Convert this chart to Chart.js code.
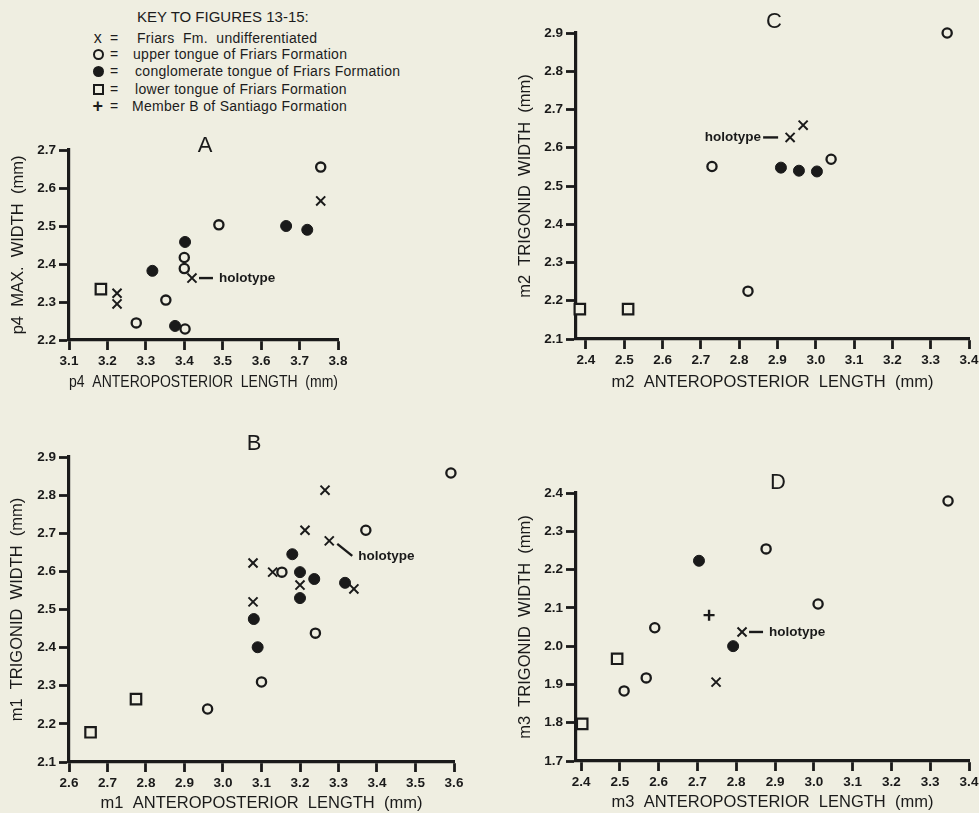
<!DOCTYPE html>
<html>
<head>
<meta charset="utf-8">
<title>Key to figures 13-15</title>
<script src="https://cdn.jsdelivr.net/npm/chart.js@4.4.1/dist/chart.umd.min.js"></script>
<style>
  html, body { margin: 0; padding: 0; width: 979px; height: 813px; overflow: hidden; background: #efeee1; }
  body { position: relative; font-family: "Liberation Sans", Arial, sans-serif; color: #1c1c1c; }
  canvas { position: absolute; }
  .key-title { position: absolute; left: 137px; top: 8px; font-size: 15px; white-space: pre; }
  .key-row { position: absolute; left: 0; height: 18px; width: 420px; }
  .key-row span { position: absolute; top: 0; line-height: 18px; white-space: pre; font-size: 14px; letter-spacing: 0.3px; }
  .sym { width: 18px; text-align: center; left: 89px; }
  .eq { left: 110px; }
  .ring { display: inline-block; box-sizing: border-box; width: 11px; height: 11px; border: 2px solid #1a1a1a; border-radius: 50%; margin-top: 4px; }
  .dot { display: inline-block; width: 11px; height: 11px; background: #1a1a1a; border-radius: 50%; margin-top: 4px; }
  .box { display: inline-block; box-sizing: border-box; width: 11px; height: 11px; border: 2px solid #1a1a1a; margin-top: 4px; }
</style>
</head>
<body>

<div class="key-title">KEY TO FIGURES 13-15:</div>
<div class="key-row" style="top:29px"><span class="sym" style="font-size:16px">x</span><span class="eq">=</span><span style="left:137px">Friars  Fm.  undifferentiated</span></div>
<div class="key-row" style="top:45px"><span class="sym"><i class="ring"></i></span><span class="eq">=</span><span style="left:133px">upper tongue of Friars Formation</span></div>
<div class="key-row" style="top:62px"><span class="sym"><i class="dot"></i></span><span class="eq">=</span><span style="left:135px">conglomerate tongue of Friars Formation</span></div>
<div class="key-row" style="top:80px"><span class="sym"><i class="box"></i></span><span class="eq">=</span><span style="left:135px">lower tongue of Friars Formation</span></div>
<div class="key-row" style="top:97px"><span class="sym" style="font-size:18px;font-weight:bold">+</span><span class="eq">=</span><span style="left:132px">Member B of Santiago Formation</span></div>

<canvas id="panelA"></canvas>
<canvas id="panelB"></canvas>
<canvas id="panelC"></canvas>
<canvas id="panelD"></canvas>

<script>
// Tick values for each panel
const aXTicks = [3.1, 3.2, 3.3, 3.4, 3.5, 3.6, 3.7, 3.8];
const aYTicks = [2.2, 2.3, 2.4, 2.5, 2.6, 2.7];
const bXTicks = [2.6, 2.7, 2.8, 2.9, 3.0, 3.1, 3.2, 3.3, 3.4, 3.5, 3.6];
const bYTicks = [2.1, 2.2, 2.3, 2.4, 2.5, 2.6, 2.7, 2.8, 2.9];
const cXTicks = [2.4, 2.5, 2.6, 2.7, 2.8, 2.9, 3.0, 3.1, 3.2, 3.3, 3.4];
const cYTicks = [2.1, 2.2, 2.3, 2.4, 2.5, 2.6, 2.7, 2.8, 2.9];
const dXTicks = [2.4, 2.5, 2.6, 2.7, 2.8, 2.9, 3.0, 3.1, 3.2, 3.3, 3.4];
const dYTicks = [1.7, 1.8, 1.9, 2.0, 2.1, 2.2, 2.3, 2.4];

// Panel A: p4 length vs max. width  [length, width]
const aUndiff = [[3.225, 2.323], [3.225, 2.295], [3.42, 2.363], [3.755, 2.566]];
const aUpper = [[3.275, 2.245], [3.352, 2.305], [3.402, 2.229], [3.40, 2.417], [3.40, 2.388], [3.49, 2.503], [3.755, 2.655]];
const aConglom = [[3.317, 2.382], [3.376, 2.237], [3.402, 2.458], [3.665, 2.50], [3.72, 2.49]];
const aLower = [[3.183, 2.334]];
const aHolotype = [3.42, 2.363];

// Panel B: m1 length vs trigonid width
const bUndiff = [[3.265, 2.813], [3.213, 2.708], [3.276, 2.68], [3.078, 2.622], [3.129, 2.598], [3.2, 2.564], [3.34, 2.554], [3.078, 2.52]];
const bUpper = [[3.592, 2.858], [3.371, 2.708], [3.153, 2.598], [3.24, 2.438], [3.10, 2.31], [2.96, 2.239]];
const bConglom = [[3.18, 2.645], [3.2, 2.598], [3.237, 2.58], [3.317, 2.57], [3.2, 2.53], [3.08, 2.475], [3.09, 2.401]];
const bLower = [[2.774, 2.265], [2.656, 2.178]];
const bHolotype = [3.276, 2.68];

// Panel C: m2 length vs trigonid width
const cUndiff = [[2.967, 2.659], [2.933, 2.627]];
const cUpper = [[3.343, 2.90], [2.729, 2.551], [3.04, 2.57], [2.823, 2.225]];
const cConglom = [[2.909, 2.548], [2.956, 2.54], [3.003, 2.538]];
const cLower = [[2.384, 2.178], [2.51, 2.178]];
const cHolotype = [2.933, 2.627];

// Panel D: m3 length vs trigonid width
const dUndiff = [[2.815, 2.037], [2.748, 1.906]];
const dUpper = [[3.346, 2.379], [2.877, 2.254], [3.011, 2.11], [2.59, 2.048], [2.568, 1.917], [2.511, 1.883]];
const dConglom = [[2.704, 2.223], [2.792, 2.0]];
const dLower = [[2.493, 1.967], [2.403, 1.797]];
const dSantiago = [[2.73, 2.081]];
const dHolotype = [2.815, 2.037];

const INK = '#1a1a1a';
const PAPER = '#efeee1';
const FONT = '"Liberation Sans", Arial, sans-serif';
const TITLE_SIZE = 16.5;
const TITLE_HALF = TITLE_SIZE * 1.2 / 2;

// Marker look for each group
const markerStyles = {
    undiff:   { pointStyle: 'crossRot', pointRadius: 6.4, pointBorderWidth: 2, pointBorderColor: INK, pointBackgroundColor: INK },
    upper:    { pointStyle: 'circle', pointRadius: 4.6, pointBorderWidth: 2.3, pointBorderColor: INK, pointBackgroundColor: PAPER },
    conglom:  { pointStyle: 'circle', pointRadius: 5.5, pointBorderWidth: 1, pointBorderColor: INK, pointBackgroundColor: INK },
    lower:    { pointStyle: 'rect', pointRadius: 7.4, pointBorderWidth: 2.2, pointBorderColor: INK, pointBackgroundColor: PAPER },
    santiago: { pointStyle: 'cross', pointRadius: 5.5, pointBorderWidth: 2.4, pointBorderColor: INK, pointBackgroundColor: INK }
};

function toPoints(pairs) {
    return pairs.map(p => ({ x: p[0], y: p[1] }));
}

function buildDatasets(groups) {
    return Object.keys(groups).map(name => Object.assign({
        label: name,
        data: toPoints(groups[name]),
        showLine: false,
        clip: false,
        pointHoverRadius: 0
    }, markerStyles[name]));
}

// Panel letter and the "holotype" pointer
const panelDecor = {
    id: 'panelDecor',
    afterDatasetsDraw(chart, args, opts) {
        const ctx = chart.ctx;
        const area = chart.chartArea;
        ctx.save();
        ctx.fillStyle = INK;
        ctx.strokeStyle = INK;

        ctx.font = '22px ' + FONT;
        ctx.textAlign = 'center';
        ctx.textBaseline = 'middle';
        ctx.fillText(opts.letter, (area.left + area.right) / 2 + opts.letterDx, area.top + opts.letterDy);

        const px = chart.scales.x.getPixelForValue(opts.holotype[0]);
        const py = chart.scales.y.getPixelForValue(opts.holotype[1]);
        ctx.font = 'bold 13.5px ' + FONT;
        ctx.lineWidth = 2.4;
        ctx.beginPath();
        if (opts.side === 'left') {
            ctx.moveTo(px - 27, py);
            ctx.lineTo(px - 12, py);
            ctx.stroke();
            ctx.textAlign = 'right';
            ctx.fillText('holotype', px - 29, py);
        } else if (opts.side === 'slant') {
            ctx.moveTo(px + 8, py + 3);
            ctx.lineTo(px + 23, py + 15);
            ctx.stroke();
            ctx.textAlign = 'left';
            ctx.fillText('holotype', px + 29, py + 15);
        } else {
            ctx.moveTo(px + 7, py);
            ctx.lineTo(px + 21, py);
            ctx.stroke();
            ctx.textAlign = 'left';
            ctx.fillText('holotype', px + 27, py);
        }
        ctx.restore();
    }
};

function axisOptions(ticks, min, max, title, titlePadding, fixedSize, horizontal) {
    return {
        type: 'linear',
        position: horizontal ? 'bottom' : 'left',
        min: min,
        max: max,
        afterBuildTicks: scale => { scale.ticks = ticks.map(v => ({ value: v })); },
        afterFit: scale => {
            if (horizontal) scale.height = fixedSize;
            else scale.width = fixedSize;
        },
        ticks: {
            autoSkip: false,
            maxRotation: 0,
            padding: 3,
            color: INK,
            font: { family: FONT, size: 13.5, weight: 'bold' },
            callback: v => v.toFixed(1)
        },
        grid: {
            drawOnChartArea: false,
            drawTicks: true,
            tickLength: 10,
            tickWidth: 2.8,
            tickColor: INK
        },
        border: { display: true, color: INK, width: 3.2 },
        title: {
            display: true,
            text: title,
            color: INK,
            padding: titlePadding,
            font: { family: FONT, size: TITLE_SIZE }
        }
    };
}

// Place one panel so that its plot area lands on the given pixels
function makePanel(cfg) {
    const canvas = document.getElementById(cfg.id);
    canvas.width = cfg.box.width;
    canvas.height = cfg.box.height;
    canvas.style.left = cfg.box.left + 'px';
    canvas.style.top = cfg.box.top + 'px';

    const yAxisWidth = cfg.area.l - cfg.box.left;
    const xAxisHeight = cfg.box.top + cfg.box.height - cfg.area.b;

    return new Chart(canvas.getContext('2d'), {
        type: 'scatter',
        data: { datasets: buildDatasets(cfg.groups) },
        options: {
            responsive: false,
            animation: false,
            devicePixelRatio: 1,
            layout: {
                padding: {
                    left: 0,
                    top: cfg.area.t - cfg.box.top,
                    right: cfg.box.left + cfg.box.width - cfg.area.r,
                    bottom: 0
                }
            },
            scales: {
                x: axisOptions(cfg.xTicks, cfg.xMin, cfg.xMax, cfg.xTitle,
                    { top: 0, bottom: cfg.box.top + cfg.box.height - cfg.xTitleY - TITLE_HALF }, xAxisHeight, true),
                y: axisOptions(cfg.yTicks, cfg.yMin, cfg.yMax, cfg.yTitle,
                    { top: cfg.yTitleX - cfg.box.left - TITLE_HALF, bottom: 0 }, yAxisWidth, false)
            },
            plugins: {
                legend: { display: false },
                tooltip: { enabled: false },
                panelDecor: {
                    letter: cfg.letter, letterDx: cfg.letterDx, letterDy: cfg.letterDy,
                    holotype: cfg.holotype, side: cfg.side
                }
            }
        },
        plugins: [panelDecor]
    });
}

makePanel({
    id: 'panelA',
    box: { left: 0, top: 120, width: 480, height: 280 },
    area: { l: 69, t: 150, r: 338, b: 340 },
    xMin: 3.1, xMax: 3.8, yMin: 2.2, yMax: 2.7,
    xTicks: aXTicks, yTicks: aYTicks,
    xTitle: 'p4  ANTEROPOSTERIOR  LENGTH  (mm)', yTitle: 'p4  MAX.  WIDTH  (mm)',
    xTitleY: 382, yTitleX: 18,
    letter: 'A', letterDx: 1.5, letterDy: -4.5,
    groups: { undiff: aUndiff, upper: aUpper, conglom: aConglom, lower: aLower },
    holotype: aHolotype, side: 'right'
});

makePanel({
    id: 'panelB',
    box: { left: 0, top: 400, width: 480, height: 413 },
    area: { l: 69, t: 457, r: 454, b: 762 },
    xMin: 2.6, xMax: 3.6, yMin: 2.1, yMax: 2.9,
    xTicks: bXTicks, yTicks: bYTicks,
    xTitle: 'm1  ANTEROPOSTERIOR  LENGTH  (mm)', yTitle: 'm1  TRIGONID  WIDTH  (mm)',
    xTitleY: 803, yTitleX: 17,
    letter: 'B', letterDx: -7.5, letterDy: -13.5,
    groups: { undiff: bUndiff, upper: bUpper, conglom: bConglom, lower: bLower },
    holotype: bHolotype, side: 'slant'
});

makePanel({
    id: 'panelC',
    box: { left: 480, top: 0, width: 510, height: 400 },
    area: { l: 576, t: 33, r: 969, b: 339 },
    xMin: 2.374, xMax: 3.4, yMin: 2.1, yMax: 2.9,
    xTicks: cXTicks, yTicks: cYTicks,
    xTitle: 'm2  ANTEROPOSTERIOR  LENGTH  (mm)', yTitle: 'm2  TRIGONID  WIDTH  (mm)',
    xTitleY: 382, yTitleX: 525,
    letter: 'C', letterDx: 1.5, letterDy: -11,
    groups: { undiff: cUndiff, upper: cUpper, conglom: cConglom, lower: cLower },
    holotype: cHolotype, side: 'left'
});

makePanel({
    id: 'panelD',
    box: { left: 480, top: 400, width: 510, height: 413 },
    area: { l: 576, t: 493, r: 969, b: 761 },
    xMin: 2.387, xMax: 3.4, yMin: 1.7, yMax: 2.4,
    xTicks: dXTicks, yTicks: dYTicks,
    xTitle: 'm3  ANTEROPOSTERIOR  LENGTH  (mm)', yTitle: 'm3  TRIGONID  WIDTH  (mm)',
    xTitleY: 802, yTitleX: 525,
    letter: 'D', letterDx: 5.5, letterDy: -10.5,
    groups: { undiff: dUndiff, upper: dUpper, conglom: dConglom, lower: dLower, santiago: dSantiago },
    holotype: dHolotype, side: 'right'
});
</script>
</body>
</html>
